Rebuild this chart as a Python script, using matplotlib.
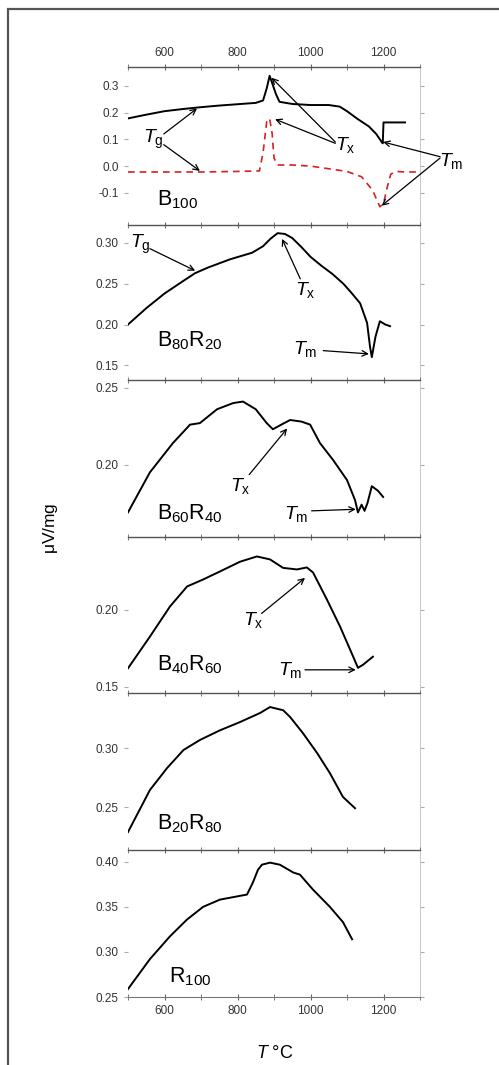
import matplotlib
matplotlib.use("Agg")
import matplotlib.pyplot as plt
from matplotlib.ticker import MultipleLocator, FixedLocator

plt.rcParams["font.family"] = ["Liberation Sans", "DejaVu Sans"]
plt.rcParams["mathtext.fontset"] = "custom"
plt.rcParams["mathtext.rm"] = "Liberation Sans"
plt.rcParams["mathtext.it"] = "Liberation Sans:italic"

# DTA curves (temperature in deg C, signal in uV/mg)
t_b100 = [500, 550, 600, 650, 700, 750, 800, 850, 870, 880, 888, 895, 905, 915, 950, 1000,
          1050, 1080, 1100, 1130, 1160, 1180, 1195, 1198, 1200, 1259]
v_b100 = [0.178, 0.192, 0.205, 0.213, 0.220, 0.226, 0.231, 0.236, 0.245, 0.29, 0.337, 0.31,
          0.27, 0.24, 0.232, 0.228, 0.228, 0.222, 0.205, 0.175, 0.148, 0.12, 0.09, 0.085, 0.163, 0.163]

t_b100_red = [500, 600, 700, 800, 860, 870, 880, 888, 895, 900, 910, 950, 1000, 1050, 1100,
              1140, 1170, 1190, 1200, 1210, 1220, 1235, 1260, 1300]
v_b100_red = [-0.022, -0.022, -0.022, -0.02, -0.018, 0.05, 0.165, 0.178, 0.12, 0.03, 0.004,
              0.004, 0.0, -0.01, -0.02, -0.04, -0.09, -0.152, -0.14, -0.08, -0.03, -0.02, -0.022, -0.022]

t_b80r20 = [500, 550, 600, 650, 684, 720, 780, 840, 870, 890, 910, 930, 950, 975, 1000, 1030,
            1060, 1090, 1110, 1136, 1155, 1163, 1168, 1178, 1190, 1205, 1218]
v_b80r20 = [0.200, 0.220, 0.238, 0.253, 0.263, 0.270, 0.280, 0.288, 0.296, 0.305, 0.312, 0.311,
            0.306, 0.295, 0.283, 0.272, 0.262, 0.250, 0.240, 0.226, 0.202, 0.173, 0.160, 0.185,
            0.204, 0.200, 0.198]

t_b60r40 = [500, 560, 623, 670, 697, 744, 788, 815, 850, 880, 897, 920, 944, 975, 999, 1026,
            1062, 1100, 1122, 1130, 1140, 1148, 1156, 1168, 1185, 1199]
v_b60r40 = [0.169, 0.195, 0.214, 0.226, 0.227, 0.236, 0.240, 0.241, 0.236, 0.227, 0.223, 0.226,
            0.229, 0.228, 0.226, 0.214, 0.203, 0.190, 0.177, 0.169, 0.174, 0.170, 0.175, 0.186,
            0.183, 0.179]

t_b40r60 = [500, 560, 615, 662, 706, 752, 807, 853, 889, 925, 963, 990, 1007, 1045, 1081,
            1117, 1130, 1144, 1171]
v_b40r60 = [0.162, 0.1825, 0.202, 0.215, 0.2195, 0.2247, 0.231, 0.2344, 0.2325, 0.227, 0.226,
            0.2273, 0.224, 0.2065, 0.189, 0.1695, 0.1623, 0.1643, 0.1695]

t_b20r80 = [500, 560, 607, 652, 697, 752, 807, 862, 889, 925, 944, 979, 1018, 1053, 1089, 1122]
v_b20r80 = [0.2288, 0.2644, 0.283, 0.2983, 0.3068, 0.315, 0.322, 0.3297, 0.3347, 0.332, 0.3263,
            0.3127, 0.2958, 0.2788, 0.2585, 0.249]

t_r100 = [500, 560, 615, 662, 706, 752, 826, 842, 856, 867, 889, 916, 953, 971, 1007, 1053, 1089, 1114]
v_r100 = [0.2588, 0.292, 0.3173, 0.336, 0.350, 0.358, 0.3636, 0.3768, 0.391, 0.3967, 0.399,
          0.3967, 0.388, 0.3857, 0.369, 0.350, 0.333, 0.314]

panel_names = [r"B$_{100}$", r"B$_{80}$R$_{20}$", r"B$_{60}$R$_{40}$",
               r"B$_{40}$R$_{60}$", r"B$_{20}$R$_{80}$", r"R$_{100}$"]
panel_ylims = [(-0.22, 0.37), (0.132, 0.322), (0.153, 0.255),
               (0.146, 0.247), (0.2136, 0.3466), (0.25, 0.413)]
panel_yticks = [[-0.1, 0.0, 0.1, 0.2, 0.3], [0.15, 0.20, 0.25, 0.30], [0.20, 0.25],
                [0.15, 0.20], [0.25, 0.30], [0.25, 0.30, 0.35, 0.40]]
panel_yfmt = ["%.1f", "%.2f", "%.2f", "%.2f", "%.2f", "%.2f"]

W, H = 499, 1065
fig = plt.figure(figsize=(W / 100, H / 100), dpi=100)

# outer frame of the scanned figure
fig.patches.append(plt.Rectangle((8 / W, -0.1), 1.2, 1 - 9 / H + 0.1, transform=fig.transFigure,
                                 fill=False, ec="#555555", lw=1.6))

edges = [67, 225, 380, 537, 693, 850, 997]
left, right = 128 / W, 420 / W
axes = []
for i in range(6):
    bottom = 1 - edges[i + 1] / H
    height = (edges[i + 1] - edges[i]) / H
    ax = fig.add_axes([left, bottom, right - left, height])
    ax.set_xlim(500, 1300)
    ax.set_ylim(*panel_ylims[i])
    ax.spines["left"].set_visible(False)
    ax.spines["right"].set_color("#c8c8c8")
    ax.spines["right"].set_linewidth(0.7)
    ax.spines["top"].set_color("#555555")
    ax.spines["top"].set_linewidth(1.0)
    ax.spines["bottom"].set_visible(i == 5)
    ax.spines["bottom"].set_color("#777777")
    ax.xaxis.set_major_locator(MultipleLocator(200))
    ax.xaxis.set_minor_locator(MultipleLocator(100))
    ax.tick_params(axis="x", which="both", top=True, bottom=(i == 5), direction="inout",
                   length=4, color="#666666", labeltop=(i == 0), labelbottom=(i == 5),
                   labelsize=8.5, labelcolor="#333333")
    ax.yaxis.set_major_locator(FixedLocator(panel_yticks[i]))
    ax.yaxis.set_major_formatter(plt.FormatStrFormatter(panel_yfmt[i]))
    ax.tick_params(axis="y", left=True, right=True, direction="out", length=3,
                   color="#aaaaaa", labelsize=8.5, labelcolor="#333333")
    ax.patch.set_alpha(0)
    axes.append(ax)

lw = 1.4
ax1, ax2, ax3, ax4, ax5, ax6 = axes
ax1.plot(t_b100, v_b100, color="black", lw=lw)
ax1.plot(t_b100_red, v_b100_red, color="#d62020", lw=1.2, ls=(0, (4, 3)))
ax2.plot(t_b80r20, v_b80r20, color="black", lw=lw)
ax3.plot(t_b60r40, v_b60r40, color="black", lw=lw)
ax4.plot(t_b40r60, v_b40r60, color="black", lw=lw)
ax5.plot(t_b20r80, v_b20r80, color="black", lw=lw)
ax6.plot(t_r100, v_r100, color="black", lw=lw)

# sample names
name_pos = [(580, -0.125), (580, 0.180), (580, 0.168), (580, 0.164), (580, 0.236), (612, 0.272)]
for ax, name, (x, y) in zip(axes, panel_names, name_pos):
    ax.text(x, y, name, fontsize=15.5, va="center", ha="left")

fs = 14
arr = dict(arrowstyle="->", lw=0.9, color="black", shrinkA=0, shrinkB=0)


def mark(ax, label, text_xy, targets, starts):
    ax.text(*text_xy, label, fontsize=fs, ha="center", va="center", clip_on=False)
    for s, t in zip(starts, targets):
        ax.annotate("", xy=t, xytext=s, arrowprops=arr, annotation_clip=False)


# B100
mark(ax1, r"$T_\mathrm{g}$", (570, 0.10), [(689, 0.215), (697, -0.018)], [(598, 0.12), (598, 0.08)])
mark(ax1, r"$T_\mathrm{x}$", (1095, 0.08), [(893, 0.33), (903, 0.175)], [(1068, 0.09), (1068, 0.085)])
mark(ax1, r"$T_\mathrm{m}$", (1385, 0.02), [(1199, 0.09), (1195, -0.148)], [(1355, 0.035), (1355, 0.03)])
# B80R20
mark(ax2, r"$T_\mathrm{g}$", (535, 0.298), [(684, 0.266)], [(560, 0.293)])
mark(ax2, r"$T_\mathrm{x}$", (985, 0.242), [(922, 0.305)], [(972, 0.256)])
mark(ax2, r"$T_\mathrm{m}$", (985, 0.170), [(1160, 0.164)], [(1035, 0.168)])
# B60R40
mark(ax3, r"$T_\mathrm{x}$", (808, 0.186), [(936, 0.2235)], [(832, 0.1935)])
mark(ax3, r"$T_\mathrm{m}$", (960, 0.168), [(1124, 0.171)], [(1003, 0.170)])
# B40R60
mark(ax4, r"$T_\mathrm{x}$", (842, 0.1935), [(985, 0.2205)], [(866, 0.1975)])
mark(ax4, r"$T_\mathrm{m}$", (944, 0.161), [(1124, 0.161)], [(985, 0.161)])

fig.text(50 / W, 1 - 528 / H, r"$\mathrm{\mu}$V/mg", rotation=90, fontsize=12.5,
         ha="center", va="center")
fig.text(275 / W, 1 - 1053 / H, r"$T$ °C", fontsize=13, ha="center", va="center")

fig.savefig("out.png", dpi=100)
